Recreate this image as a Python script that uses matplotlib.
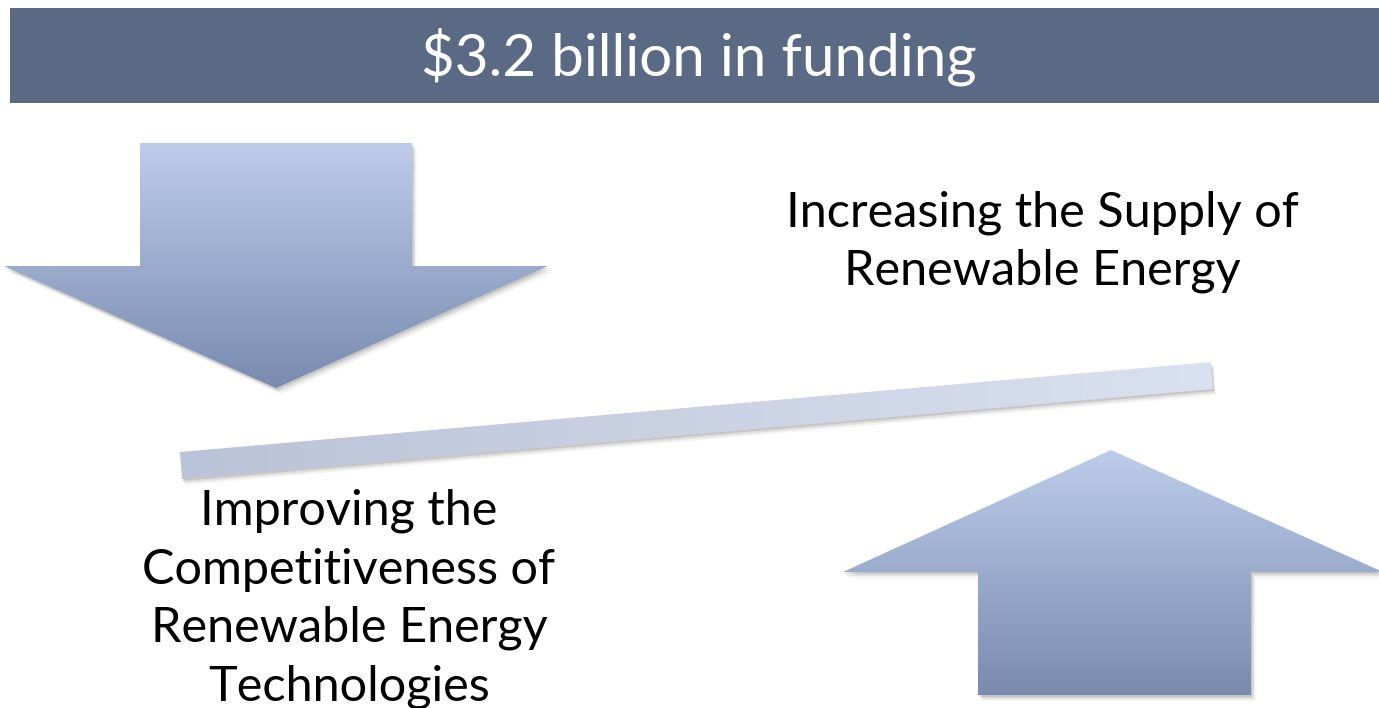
import numpy as np
import matplotlib.pyplot as plt
from matplotlib.patches import Polygon, Rectangle
from matplotlib.colors import LinearSegmentedColormap

W, H = 1379, 708

title = "$3.2 billion in funding"
left_label = ["Improving the", "Competitiveness of", "Renewable Energy", "Technologies"]
right_label = ["Increasing the Supply of", "Renewable Energy"]

plt.rcParams['font.family'] = ['Lato', 'DejaVu Sans']

fig = plt.figure(figsize=(W / 100, H / 100), dpi=100)
ax = fig.add_axes([0, 0, 1, 1])
ax.set_xlim(0, W)
ax.set_ylim(H, 0)
ax.axis('off')


def shadow(verts, dx=3, dy=4):
    for k, a in zip([1, 2, 3], [0.18, 0.12, 0.07]):
        sv = [(x + dx * k / 2, y + dy * k / 2) for x, y in verts]
        ax.add_patch(Polygon(sv, closed=True, facecolor='#555555', edgecolor='none',
                             alpha=a, zorder=2))


def gradient_poly(verts, c0, c1, horizontal=False):
    poly = Polygon(verts, closed=True, facecolor='none', edgecolor='none', zorder=3)
    ax.add_patch(poly)
    cmap = LinearSegmentedColormap.from_list('g', [c0, c1])
    g = np.linspace(0, 1, 256)
    grad = g.reshape(1, -1) if horizontal else g.reshape(-1, 1)
    xs = [v[0] for v in verts]
    ys = [v[1] for v in verts]
    im = ax.imshow(grad, cmap=cmap, extent=(min(xs), max(xs), max(ys), min(ys)),
                   aspect='auto', zorder=3, interpolation='bilinear')
    im.set_clip_path(poly)


# header band
ax.add_patch(Rectangle((10, 8), W - 10, 95, facecolor='#5A6A85', edgecolor='none', zorder=1))
ax.text(699, 57, title, color='white', fontsize=42,
        ha='center', va='center', zorder=5)

# down arrow (left)
down = [(140, 143), (412, 143), (412, 266), (548, 266), (276, 388),
        (4, 266), (140, 266)]
shadow(down)
gradient_poly(down, '#BDCCEA', '#788BAF')

# up arrow (right)
up = [(1111, 450), (1383, 572), (1251, 572), (1251, 695), (978, 695),
      (978, 572), (843, 572)]
shadow(up)
gradient_poly(up, '#BDCCEA', '#788BAF')

# plank
plank = [(180, 452), (1211, 362), (1213, 389), (182, 479)]
shadow(plank, 2, 4)
gradient_poly(plank, '#BAC3D7', '#DAE1F0', horizontal=True)

for i, s in enumerate(right_label):
    ax.text(1042, 213 + 58 * i, s, fontsize=35, ha='center', va='center',
            color='black', zorder=5)
for i, s in enumerate(left_label):
    ax.text(349, 511 + 58.5 * i, s, fontsize=35, ha='center', va='center',
            color='black', zorder=5)

fig.savefig('out.png', dpi=100)
